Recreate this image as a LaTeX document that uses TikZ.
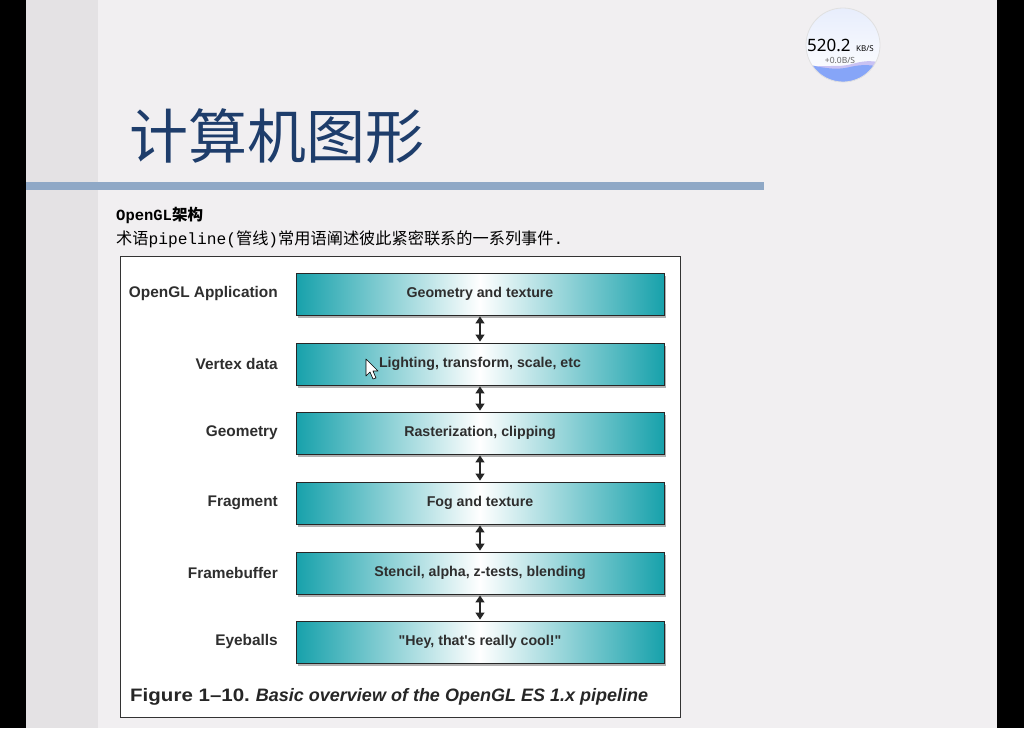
\documentclass[tikz,border=0pt]{standalone}
\usepackage{fontspec}
\setmainfont{Liberation Sans}
\newfontfamily\sansplain[Ligatures=TeXOff]{Liberation Sans}
\newfontfamily\cjk{Noto Sans CJK SC}
\newfontfamily\mono{Liberation Mono}
\newfontfamily\widgetfont{Noto Sans}
\usetikzlibrary{arrows.meta,shadows}

\definecolor{slidebg}{HTML}{F1EFF1}
\definecolor{stripbg}{HTML}{E4E2E4}
\definecolor{barblue}{HTML}{8FA8C6}
\definecolor{titleblue}{HTML}{1E3D6B}
\definecolor{tealend}{HTML}{17A1AB}
\definecolor{labelgray}{HTML}{2E2E2E}
\definecolor{wavesky}{HTML}{E7EDFC}
\definecolor{waveblue}{HTML}{86A5F8}
\definecolor{wavelilac}{HTML}{C9C2F3}

\tikzset{
  stagebox/.style={draw=black!85, line width=0.9pt, minimum width=368pt,
    minimum height=42pt, inner sep=0pt,
    left color=tealend, right color=tealend, middle color=white,
    font=\bfseries\fontsize{14.2}{15}\selectfont, text=labelgray,
    drop shadow={shadow xshift=1.5pt, shadow yshift=-3pt, opacity=0.3, fill=black}},
  stagelabel/.style={anchor=east, inner sep=0pt,
    font=\bfseries\fontsize{15.4}{16}\selectfont, text=labelgray},
  link/.style={{Triangle[length=7pt,width=9pt]}-{Triangle[length=7pt,width=9pt]},
    line width=1.2pt, black!85, shorten <=1pt, shorten >=1pt},
}

\begin{document}
\begin{tikzpicture}[x=1pt,y=-1pt]
  \useasboundingbox (0,0) rectangle (1024,728);

  % screen frame, side strip and slide
  \fill[black] (0,0) rectangle (1024,728);
  \fill[stripbg] (26,0) rectangle (98,728);
  \fill[slidebg] (98,0) rectangle (997,728);

  % title and rule
  \node[anchor=west, inner sep=0pt, text=titleblue,
        font=\cjk\fontsize{59}{59}\selectfont] (title) at (129,136) {计算机图形};
  \fill[barblue] (26,182) rectangle (764,190);

  % intro text
  \node[anchor=base west, inner sep=0pt, font=\mono\bfseries\fontsize{15.5}{16}\selectfont]
    (head) at (116,220) {OpenGL{\cjk 架构}};
  \node[anchor=base west, inner sep=0pt, font=\fontsize{16.2}{17}\selectfont]
    (intro) at (116,244) {{\cjk 术语}{\mono pipeline(}{\cjk 管线}{\mono )}{\cjk 常用语阐述彼此紧密联系的一系列事件}{\mono .}};

  % figure frame
  \node[draw=black!80, line width=0.8pt, fill=white, anchor=north west,
        minimum width=560pt, minimum height=461pt, inner sep=0pt] (frame) at (120,256) {};

  % pipeline stages
  \node[stagebox] (b1) at (480,294) {Geometry and texture};
  \node[stagebox] (b2) at (480,364) {Lighting, transform, scale, etc};
  \node[stagebox] (b3) at (480,433) {Rasterization, clipping};
  \node[stagebox] (b4) at (480,503) {Fog and texture};
  \node[stagebox] (b5) at (480,573) {Stencil, alpha, z-tests, blending};
  \node[stagebox] (b6) at (480,642) {\sansplain\bfseries "Hey, that's really cool!"};

  \node[stagelabel] (l1) at (278,294) {OpenGL Application};
  \node[stagelabel] (l2) at (278,364) {Vertex data};
  \node[stagelabel] (l3) at (278,433) {Geometry};
  \node[stagelabel] (l4) at (278,503) {Fragment};
  \node[stagelabel] (l5) at (278,573) {Framebuffer};
  \node[stagelabel] (l6) at (278,642) {Eyeballs};

  \foreach \a/\b in {b1/b2,b2/b3,b3/b4,b4/b5,b5/b6}
    \draw[link] (\a.south) -- (\b.north);

  % caption
  \node[anchor=base west, inner sep=0pt, font=\bfseries\fontsize{18}{18}\selectfont, text=black!85]
    (cap) at (130,701) {\scalebox{1.14}[1]{Figure 1--10.}\hspace{6pt}\textit{Basic overview of the OpenGL ES 1.x pipeline}};

  % mouse pointer
  \filldraw[fill=white, draw=black, line width=0.6pt, line join=round]
    (366,359) -- (366,376) -- (370,372) -- (373,379) -- (376,378) -- (373,371) -- (378,371) -- cycle;

  % network speed widget
  \begin{scope}
    \clip (843,45) circle[radius=37pt];
    \shade[top color=wavesky, bottom color=white] (805,7) rectangle (881,83);
    \fill[wavelilac] (805,68) .. controls (825,64) and (838,68) .. (852,64)
      .. controls (862,61) and (872,60) .. (881,63) -- (881,84) -- (805,84) -- cycle;
    \fill[waveblue] (805,64) .. controls (820,67) and (835,71) .. (850,67)
      .. controls (862,64) and (872,65) .. (881,67) -- (881,84) -- (805,84) -- cycle;
  \end{scope}
  \draw[black!12, line width=0.8pt] (843,45) circle[radius=37pt];
  \node[anchor=base west, inner sep=0pt, font=\widgetfont\fontsize{17}{17}\selectfont]
    (speed) at (807,51) {520.2};
  \node[anchor=base west, inner sep=0pt, font=\widgetfont\fontsize{8}{8}\selectfont]
    (unit) at (856,51) {KB/S};
  \node[anchor=base, inner sep=0pt, text=black!60, font=\widgetfont\fontsize{8.5}{8.5}\selectfont]
    (delta) at (840,63) {+0.0B/S};
\end{tikzpicture}
\end{document}
